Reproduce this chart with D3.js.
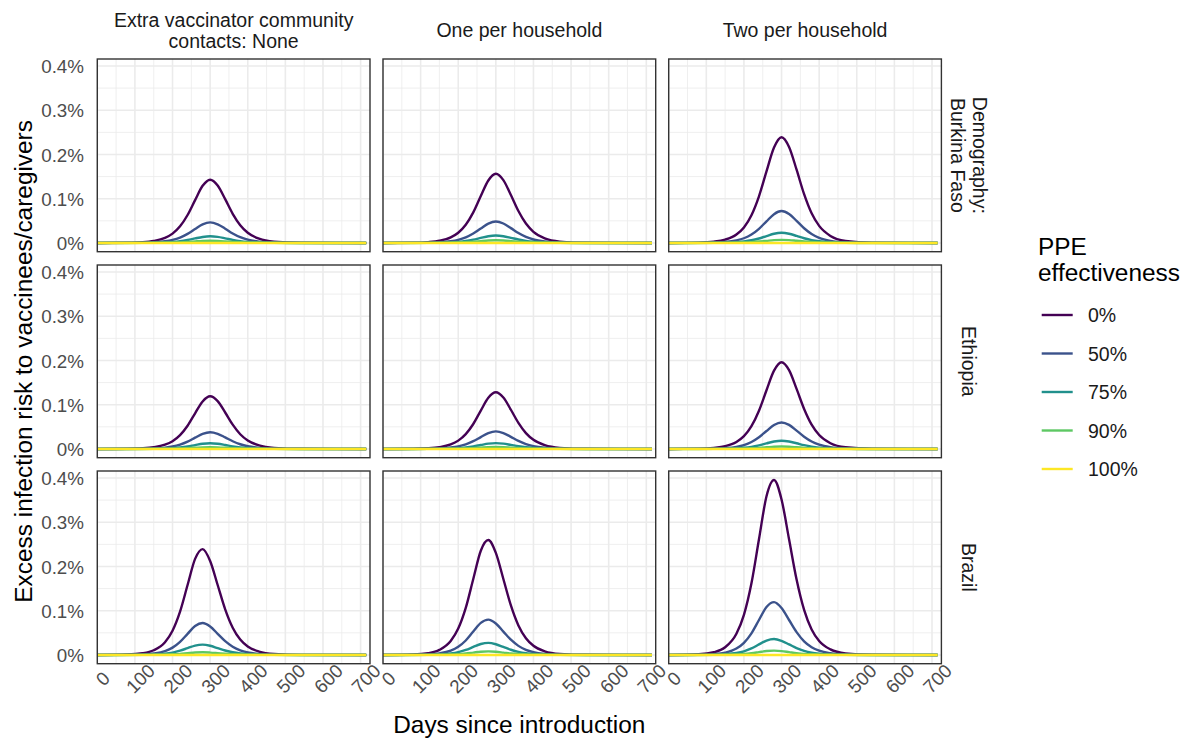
<!DOCTYPE html>
<html>
<head>
<meta charset="utf-8">
<script src="https://cdn.jsdelivr.net/npm/d3@7"></script>
<style>
  html, body { margin: 0; padding: 0; background: #ffffff; }
  svg { display: block; font-family: "Liberation Sans", Arial, Helvetica, sans-serif; }
</style>
</head>
<body>
<svg id="chart" width="1189" height="738"></svg>
<script>
// ---------------- data ----------------
const days = [0, 80, 120, 150, 180, 200, 220, 240, 260, 280, 300, 320, 340, 360, 380, 400, 430, 470, 540, 715];

const colLabels = [["Extra vaccinator community", "contacts: None"], ["One per household"], ["Two per household"]];
const rowLabels = [["Demography:", "Burkina Faso"], ["Ethiopia"], ["Brazil"]];
const ppeLevels = ["0%", "50%", "75%", "90%", "100%"];
const ppeColors = ["#440154", "#3B528B", "#21908C", "#5DC863", "#FDE725"];
const xTicks = [0, 100, 200, 300, 400, 500, 600, 700];
const yTicks = [0, 0.1, 0.2, 0.3, 0.4];   // values in percent

const zeros = [0, 0, 0, 0, 0, 0, 0, 0, 0, 0, 0, 0, 0, 0, 0, 0, 0, 0, 0, 0];

// Burkina Faso
const bfNone = [
  [0, .0005, .0017, .0045, .0114, .0210, .0375, .0631, .0968, .1291, .143, .1298, .0990, .0659, .0400, .0230, .0095, .0028, .0003, 0],
  [0, .0002, .0006, .0015, .0037, .0068, .0122, .0205, .0315, .042, .0465, .0422, .0322, .0214, .013, .0075, .0031, .0009, .0001, 0],
  [0, .0001, .0002, .0005, .0012, .0022, .0039, .0066, .0102, .0135, .015, .0136, .0104, .0069, .0042, .0024, .001, .0003, 0, 0],
  [0, 0, .0001, .0002, .0004, .0007, .0013, .0022, .0034, .0045, .005, .0045, .0035, .0023, .0014, .0008, .0003, .0001, 0, 0],
  zeros
];
const bfOne = [
  [0, .0005, .0019, .0049, .0125, .0230, .0410, .0690, .1060, .1412, .1565, .1421, .1084, .0721, .0438, .0252, .0104, .0031, .0003, 0],
  [0, .0002, .0006, .0015, .0039, .0071, .0127, .0213, .0328, .0437, .0484, .0439, .0335, .0223, .0136, .0078, .0032, .0009, .0001, 0],
  [0, .0001, .0002, .0005, .0013, .0025, .0044, .0074, .0113, .0151, .0167, .0152, .0116, .0077, .0047, .0027, .0011, .0003, 0, 0],
  [0, 0, .0001, .0002, .0005, .0009, .0016, .0026, .0041, .0054, .006, .0054, .0042, .0028, .0017, .001, .0004, .0001, 0, 0],
  zeros
];
const bfTwo = [
  [0, .0008, .0029, .0075, .0191, .0351, .0626, .1054, .1618, .2157, .239, .2170, .1655, .1102, .0669, .0385, .0159, .0047, .0005, 0],
  [0, .0002, .0009, .0022, .0058, .0106, .0189, .0318, .0488, .0651, .0721, .0655, .0499, .0332, .0202, .0116, .0048, .0014, .0002, 0],
  [0, .0001, .0003, .0007, .0018, .0034, .006, .0101, .0155, .0207, .0229, .0208, .0159, .0106, .0064, .0037, .0015, .0004, .0001, 0],
  [0, 0, .0001, .0002, .0006, .001, .0018, .0031, .0047, .0063, .007, .0064, .0048, .0032, .002, .0011, .0005, .0001, 0, 0],
  zeros
];
// Ethiopia
const etNone = [
  [0, .0004, .0014, .0037, .0095, .0175, .0312, .0525, .0806, .1074, .119, .1081, .0824, .0549, .0333, .0192, .0079, .0023, .0003, 0],
  [0, .0001, .0005, .0012, .003, .0055, .0099, .0166, .0255, .034, .0377, .0342, .0261, .0174, .0106, .0061, .0025, .0007, .0001, 0],
  [0, 0, .0002, .0004, .001, .0019, .0034, .0056, .0087, .0116, .0128, .0116, .0089, .0059, .0036, .0021, .0009, .0002, 0, 0],
  [0, 0, 0, .0001, .0003, .0006, .001, .0018, .0027, .0036, .004, .0036, .0028, .0018, .0011, .0006, .0003, .0001, 0, 0],
  zeros
];
const etOne = [
  [0, .0004, .0015, .004, .0102, .0188, .0335, .0564, .0867, .1155, .128, .1162, .0886, .059, .0358, .0206, .0085, .0025, .0003, 0],
  [0, .0001, .0005, .0012, .0032, .0058, .0104, .0175, .0268, .0357, .0396, .036, .0274, .0183, .0111, .0064, .0026, .0008, .0001, 0],
  [0, 0, .0002, .0004, .0011, .0019, .0035, .0058, .0089, .0119, .0132, .012, .0091, .0061, .0037, .0021, .0009, .0003, 0, 0],
  [0, 0, .0001, .0001, .0004, .0006, .0012, .0019, .003, .004, .0044, .004, .003, .002, .0012, .0007, .0003, .0001, 0, 0],
  zeros
];
const etTwo = [
  [0, .0006, .0024, .0061, .0157, .0288, .0514, .0864, .1327, .1769, .196, .178, .1357, .0904, .0549, .0316, .013, .0038, .0004, 0],
  [0, .0002, .0007, .0019, .0048, .0088, .0157, .0264, .0405, .054, .0598, .0543, .0414, .0276, .0167, .0096, .004, .0012, .0001, 0],
  [0, .0001, .0002, .0006, .0015, .0027, .0048, .0082, .0125, .0167, .0185, .0168, .0128, .0085, .0052, .003, .0012, .0004, 0, 0],
  [0, 0, .0001, .0002, .0004, .0008, .0014, .0024, .0037, .005, .0055, .005, .0038, .0025, .0015, .0009, .0004, .0001, 0, 0],
  zeros
];
// Brazil
const brNone = [
  [0, .0009, .0037, .0105, .0289, .0548, .0979, .1581, .2171, .2393, .2125, .1581, .1031, .0615, .0348, .0191, .0076, .0022, .0002, 0],
  [0, .0003, .0011, .0032, .0087, .0165, .0296, .0477, .0655, .0722, .0642, .0477, .0311, .0186, .0105, .0058, .0023, .0007, .0001, 0],
  [0, .0001, .0004, .001, .0028, .0054, .0096, .0154, .0212, .0234, .0208, .0154, .0101, .006, .0034, .0019, .0007, .0002, 0, 0],
  [0, 0, .0001, .0003, .0007, .0014, .0025, .004, .0054, .006, .0053, .004, .0026, .0015, .0009, .0005, .0002, .0001, 0, 0],
  zeros
];
const brOne = [
  [0, .001, .004, .0114, .0314, .0595, .1063, .1717, .2356, .2597, .2307, .1717, .1119, .0667, .0378, .0207, .0082, .0023, .0003, 0],
  [0, .0003, .0012, .0035, .0096, .0183, .0327, .0528, .0725, .0799, .071, .0528, .0344, .0205, .0116, .0064, .0025, .0007, .0001, 0],
  [0, .0001, .0004, .0012, .0033, .0062, .0112, .018, .0247, .0273, .0242, .018, .0117, .007, .004, .0022, .0009, .0002, 0, 0],
  [0, 0, .0001, .0004, .001, .0018, .0033, .0053, .0073, .008, .0071, .0053, .0034, .0021, .0012, .0006, .0003, .0001, 0, 0],
  zeros
];
const brTwo = [
  [0, .0015, .0061, .0173, .0478, .0906, .1619, .2614, .3589, .3956, .3514, .2614, .1704, .1017, .0575, .0316, .0125, .0036, .0004, 0],
  [0, .0005, .0019, .0052, .0144, .0274, .0489, .079, .1084, .1195, .1061, .079, .0515, .0307, .0174, .0095, .0038, .0011, .0001, 0],
  [0, .0001, .0006, .0016, .0043, .0082, .0147, .0238, .0326, .036, .0319, .0238, .0155, .0092, .0052, .0029, .0011, .0003, 0, 0],
  [0, 0, .0002, .0004, .0012, .0022, .004, .0064, .0088, .0097, .0086, .0064, .0042, .0025, .0014, .0008, .0003, .0001, 0, 0],
  zeros
];

const panels = [
  [bfNone, bfOne, bfTwo],
  [etNone, etOne, etTwo],
  [brNone, brOne, brTwo]
];

// ---------------- layout ----------------
const svg = d3.select("#chart");
svg.append("rect").attr("width", 1189).attr("height", 738).attr("fill", "#ffffff");

const pw = 272.7, ph = 192.7;
const lefts = [97.3, 383.0, 668.7];
const tops = [59, 265, 471];

const x = d3.scaleLinear().domain([0, 725]).range([0, pw]);
const y = d3.scaleLinear().domain([-0.0198, 0.4158]).range([ph, 0]);

const xMinor = [50, 150, 250, 350, 450, 550, 650];
const yMinor = [0.05, 0.15, 0.25, 0.35];

const line = d3.line()
  .x((d, i) => x(days[i]))
  .y(d => y(d))
  .curve(d3.curveMonotoneX);

const gridCol = "#ebebeb";
const tickCol = "#4d4d4d";
const stripCol = "#1a1a1a";

svg.append("defs").append("clipPath").attr("id", "clip")
  .append("rect").attr("x", 0).attr("y", 0).attr("width", pw).attr("height", ph);

panels.forEach((row, r) => {
  row.forEach((series, c) => {
    const g = svg.append("g").attr("transform", `translate(${lefts[c]},${tops[r]})`);
    // minor grid
    g.selectAll(".vminor").data(xMinor).join("line")
      .attr("x1", d => x(d)).attr("x2", d => x(d)).attr("y1", 0).attr("y2", ph)
      .attr("stroke", gridCol).attr("stroke-width", 0.8);
    g.selectAll(".hminor").data(yMinor).join("line")
      .attr("y1", d => y(d)).attr("y2", d => y(d)).attr("x1", 0).attr("x2", pw)
      .attr("stroke", gridCol).attr("stroke-width", 0.8);
    // major grid
    g.append("g").selectAll("line").data(xTicks).join("line")
      .attr("x1", d => x(d)).attr("x2", d => x(d)).attr("y1", 0).attr("y2", ph)
      .attr("stroke", gridCol).attr("stroke-width", 1.6);
    g.append("g").selectAll("line").data(yTicks).join("line")
      .attr("y1", d => y(d)).attr("y2", d => y(d)).attr("x1", 0).attr("x2", pw)
      .attr("stroke", gridCol).attr("stroke-width", 1.6);

    // lines
    const lg = g.append("g").attr("clip-path", "url(#clip)");
    series.forEach((vals, k) => {
      lg.append("path").datum(vals)
        .attr("d", line)
        .attr("fill", "none")
        .attr("stroke", ppeColors[k])
        .attr("stroke-width", 2.4)
        .attr("stroke-linejoin", "round");
    });

    // border
    g.append("rect").attr("x", 0).attr("y", 0).attr("width", pw).attr("height", ph)
      .attr("fill", "none").attr("stroke", "#333333").attr("stroke-width", 1.4);

    // y axis
    if (c === 0) {
      const ya = g.append("g").call(
        d3.axisLeft(y).tickValues(yTicks).tickSize(0).tickPadding(13.3)
          .tickFormat(d => d === 0 ? "0%" : d3.format(".1f")(d) + "%"));
      ya.select(".domain").remove();
      ya.selectAll("text").attr("fill", tickCol).attr("font-size", 18.8)
        .attr("font-family", "Liberation Sans, Arial, sans-serif").attr("dy", "0.35em");
    }
    // x axis
    if (r === 2) {
      const xa = g.append("g").attr("transform", `translate(0,${ph})`).call(
        d3.axisBottom(x).tickValues(xTicks).tickSize(0).tickFormat(d3.format("d")));
      xa.select(".domain").remove();
      xa.selectAll("text")
        .attr("y", null).attr("dy", null).attr("x", null)
        .attr("text-anchor", "middle").attr("dominant-baseline", "central")
        .attr("transform", "translate(5,15) rotate(-45)")
        .attr("fill", tickCol).attr("font-size", 18.8)
        .attr("font-family", "Liberation Sans, Arial, sans-serif");
    }
  });
});

// column strips
colLabels.forEach((lines, c) => {
  const cx = lefts[c] + pw / 2;
  const n = lines.length;
  lines.forEach((t, i) => {
    svg.append("text")
      .attr("x", cx)
      .attr("y", 30.3 + (i - (n - 1) / 2) * 20.6)
      .attr("dy", "0.36em")
      .attr("text-anchor", "middle")
      .attr("font-size", 19.5)
      .attr("fill", stripCol)
      .text(t);
  });
});

// row strips
rowLabels.forEach((lines, r) => {
  const cy = tops[r] + ph / 2;
  const n = lines.length;
  lines.forEach((t, i) => {
    const cx = 969 - (i - (n - 1) / 2) * 22;
    svg.append("text")
      .attr("transform", `translate(${cx},${cy}) rotate(90)`)
      .attr("dy", "0.36em")
      .attr("text-anchor", "middle")
      .attr("font-size", 19.5)
      .attr("fill", stripCol)
      .text(t);
  });
});

// axis titles
svg.append("text")
  .attr("x", (lefts[0] + lefts[2] + pw) / 2)
  .attr("y", 733)
  .attr("text-anchor", "middle")
  .attr("font-size", 24.4)
  .attr("fill", "#000000")
  .text("Days since introduction");

svg.append("text")
  .attr("transform", `translate(31.5,${(tops[0] + tops[2] + ph) / 2}) rotate(-90)`)
  .attr("text-anchor", "middle")
  .attr("font-size", 24.4)
  .attr("fill", "#000000")
  .text("Excess infection risk to vaccinees/caregivers");

// legend
const leg = svg.append("g");
leg.append("text").attr("x", 1038).attr("y", 255).attr("font-size", 24.4).attr("fill", "#000").text("PPE");
leg.append("text").attr("x", 1038).attr("y", 280.5).attr("font-size", 24.4).attr("fill", "#000").text("effectiveness");
const legY = d3.scalePoint().domain(ppeLevels).range([315, 469]);
ppeLevels.forEach((lv, k) => {
  leg.append("line")
    .attr("x1", 1041.7).attr("x2", 1072.7)
    .attr("y1", legY(lv)).attr("y2", legY(lv))
    .attr("stroke", ppeColors[k]).attr("stroke-width", 2.4);
  leg.append("text")
    .attr("x", 1088).attr("y", legY(lv)).attr("dy", "0.36em")
    .attr("font-size", 19.5).attr("fill", stripCol)
    .text(lv);
});
</script>
</body>
</html>
